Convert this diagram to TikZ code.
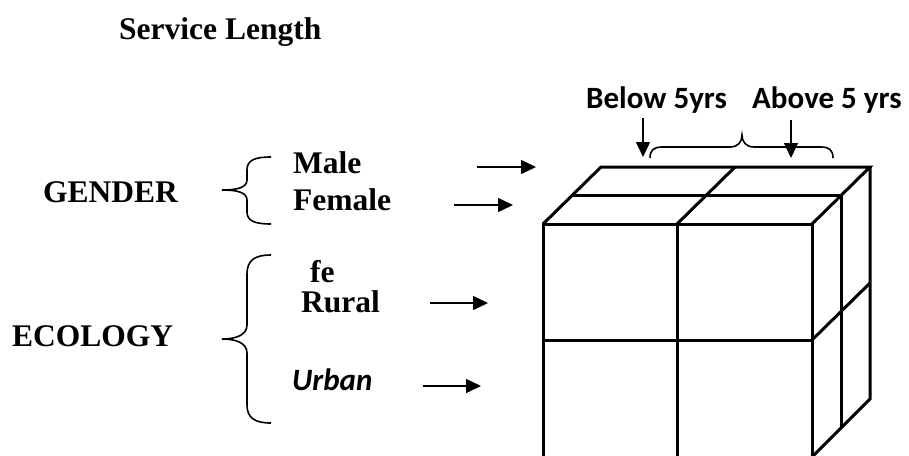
\documentclass[tikz,border=0pt]{standalone}
\usepackage{fontspec}
\setmainfont{Liberation Serif}
\newfontfamily\calibri{Carlito}
\usetikzlibrary{arrows.meta}

\begin{document}
\begin{tikzpicture}[x=1pt,y=-1pt,
  lbl/.style={anchor=base west, inner sep=0pt, font=\bfseries\fontsize{31.5}{36}\selectfont},
  clbl/.style={anchor=base west, inner sep=0pt, font=\calibri\bfseries\fontsize{31}{35}\selectfont},
  pointer/.style={line width=1.4pt, -{Triangle[length=15pt,width=14pt]}},
  bracket/.style={line width=1.6pt},
  edge/.style={line width=3pt}
]
\useasboundingbox (0,0) rectangle (909,455);
\clip (0,0) rectangle (909,455);

% ---------- titles and labels ----------
\node[lbl] (service) at (119,39) {Service Length};
\node[lbl] (gender) at (43,202) {GENDER};
\node[lbl] (ecology) at (12,346) {ECOLOGY};
\node[lbl] (male) at (293,173) {Male};
\node[lbl] (female) at (293,210) {Female};
\node[lbl] (fe) at (310,282) {fe};
\node[lbl] (rural) at (301,312) {Rural};
\node[clbl, font=\calibri\bfseries\itshape\fontsize{31}{35}\selectfont] (urban) at (292,390) {Urban};
\node[clbl] (below) at (586,108) {Below 5yrs};
\node[clbl] (above) at (752,108) {Above 5 yrs};

% ---------- curly brackets ----------
% gender bracket
\draw[bracket] (271,157) .. controls (255,157) and (247,160) .. (247,170)
  -- (247,180) .. controls (247,188) and (236,190) .. (222,190)
  .. controls (236,190) and (247,192) .. (247,200)
  -- (247,212) .. controls (247,221) and (255,224) .. (271,224);
% ecology bracket
\draw[bracket] (271,255) .. controls (255,255) and (247,260) .. (247,274)
  -- (247,325) .. controls (247,335) and (236,339) .. (222,339)
  .. controls (236,339) and (247,343) .. (247,353)
  -- (247,405) .. controls (247,418) and (255,423) .. (271,423);
% service length bracket
\draw[bracket] (650,158) .. controls (650,150) and (654,147) .. (662,147)
  -- (730,147) .. controls (738,147) and (742,142) .. (742,135)
  .. controls (742,142) and (746,147) .. (754,147)
  -- (821,147) .. controls (829,147) and (833,150) .. (833,158);

% ---------- pointers ----------
\coordinate (maleTail) at (477,167);   \coordinate (maleTip) at (536,167);
\coordinate (femTail) at (454,205);    \coordinate (femTip) at (513,205);
\coordinate (ruralTail) at (430,303);  \coordinate (ruralTip) at (488,303);
\coordinate (urbanTail) at (423,386);  \coordinate (urbanTip) at (481,386);
\coordinate (belowTail) at (643,118);  \coordinate (belowTip) at (643,157);
\coordinate (aboveTail) at (791,120);  \coordinate (aboveTip) at (791,158);
\draw[pointer] (maleTail) -- (maleTip);
\draw[pointer] (femTail) -- (femTip);
\draw[pointer] (ruralTail) -- (ruralTip);
\draw[pointer] (urbanTail) -- (urbanTip);
\draw[pointer] (belowTail) -- (belowTip);
\draw[pointer] (aboveTail) -- (aboveTip);

% ---------- 2x2x2 cube ----------
% front face
\draw[edge] (543,224) rectangle (812,457);
\draw[edge] (677,224) -- (677,457);
\draw[edge] (543,340) -- (812,340);
% top face
\draw[edge] (543,224) -- (601,167) -- (870,167) -- (812,224);
\draw[edge] (677,224) -- (735,167);
\draw[edge] (572,195.5) -- (841,195.5);
% right face
\draw[edge] (870,167) -- (870,399) -- (812,457);
\draw[edge] (841,195.5) -- (841,428);
\draw[edge] (812,340) -- (870,283);
\end{tikzpicture}
\end{document}
